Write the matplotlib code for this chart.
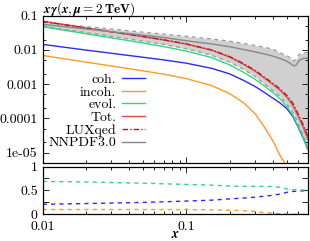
import matplotlib
matplotlib.use("Agg")
import matplotlib.pyplot as plt
import numpy as np

# x grid for the model curves
x_grid = [0.01, 0.02, 0.03, 0.05, 0.07, 0.1, 0.15, 0.2, 0.25, 0.3, 0.35,
          0.4, 0.45, 0.5, 0.55, 0.6, 0.65, 0.7]

coh = [0.0145, 0.0099, 0.0080, 0.0061, 0.0051, 0.0041, 0.0029, 0.0020,
       0.00129, 0.00086, 0.00057, 0.00039, 0.00028, 0.000193, 0.000115,
       5.6e-5, 2.7e-5, 1.25e-5]
incoh = [0.0069, 0.0044, 0.0034, 0.00245, 0.00195, 0.00145, 0.00091,
         0.00053, 0.000285, 0.00014, 5.5e-5, 2.2e-5, 8e-6, 4e-6, 5e-7,
         0.0, 0.0, 0.0]
evol = [0.0476, 0.0297, 0.0226, 0.01595, 0.01245, 0.00925, 0.00599,
        0.00367, 0.002225, 0.0014, 0.000875, 0.000568, 0.000372, 0.000223,
        0.000125, 5.9e-5, 2.8e-5, 1.25e-5]
luxqed = [0.068, 0.0435, 0.0337, 0.0245, 0.0196, 0.0150, 0.0100, 0.0064,
          0.0040, 0.00255, 0.0016, 0.00106, 0.00072, 0.00047, 0.00028,
          0.000135, 6.5e-5, 3e-5]

# NNPDF3.0 central value and uncertainty band
x_nn = [0.01, 0.02, 0.03, 0.05, 0.07, 0.1, 0.15, 0.2, 0.25, 0.3, 0.35, 0.4,
        0.45, 0.5, 0.53, 0.56, 0.58, 0.6, 0.62, 0.65, 0.7]
nn_cen = [0.056, 0.041, 0.034, 0.027, 0.023, 0.0185, 0.0150, 0.0124, 0.0103,
          0.0088, 0.0076, 0.0066, 0.0056, 0.0047, 0.0040, 0.0034, 0.0036,
          0.0045, 0.0052, 0.0056, 0.0058]
nn_up = [0.064, 0.048, 0.041, 0.033, 0.029, 0.025, 0.021, 0.018, 0.0155,
         0.0135, 0.012, 0.0105, 0.0082, 0.0068, 0.0058, 0.0048, 0.0052,
         0.0068, 0.0078, 0.0082, 0.0085]
nn_lo = [0.049, 0.032, 0.025, 0.018, 0.0145, 0.0108, 0.0070, 0.0044, 0.0027,
         0.0017, 0.0010, 0.00065, 0.00043, 0.00026, 0.00019, 0.00013,
         0.0001, 7e-5, 5e-5, 3.2e-5, 1.4e-5]

c_coh = "#2a2aff"
c_inc = "#ff9a2a"
c_evo = "#30d680"
c_tot = "#f04848"
c_lux = "#a82030"
c_nn = "#9a9a9a"

plt.rcParams["font.family"] = "cmr10"
plt.rcParams["mathtext.fontset"] = "cm"
plt.rcParams["axes.unicode_minus"] = False
plt.rcParams["font.size"] = 10

x = np.array(x_grid)
c1, c2, c3 = np.array(coh), np.array(incoh), np.array(evol)
tot = c1 + c2 + c3

fig = plt.figure(figsize=(3.1, 2.41), dpi=100)
ax = fig.add_axes([0.1377, 0.3237, 0.8552, 0.6112])
ax2 = fig.add_axes([0.1377, 0.1108, 0.8552, 0.1982])

ax.fill_between(x_nn, nn_lo, nn_up, color="#d0d0d0", lw=0)
ax.plot(x_nn, nn_up, color=c_nn, lw=0.9, ls=(0, (3, 3)))
ax.plot(x_nn, nn_lo, color=c_nn, lw=0.9, ls=(0, (3, 3)))
ax.plot(x, c1, color=c_coh, lw=1.0, label="coh.")
ax.plot(x, c2, color=c_inc, lw=1.0, label="incoh.")
ax.plot(x, c3, color=c_evo, lw=1.0, label="evol.")
ax.plot(x, tot, color=c_tot, lw=1.0, label="Tot.")
ax.plot(x, luxqed, color=c_lux, lw=1.0, ls=(0, (4, 1.5, 1, 1.5)), label="LUXqed")
ax.plot(x_nn, nn_cen, color="#888888", lw=1.0, label="NNPDF3.0")

ax.set_xscale("log")
ax.set_yscale("log")
ax.set_xlim(0.01, 0.7)
ax.set_ylim(5e-6, 0.1)
ax.set_yticks([0.1, 0.01, 0.001, 0.0001, 1e-05])
ax.set_yticklabels(["0.1", "0.01", "0.001", "0.0001", "1e-05"])
ax.yaxis.set_minor_locator(matplotlib.ticker.LogLocator(subs=(2, 5)))
ax.yaxis.set_minor_formatter(matplotlib.ticker.NullFormatter())
ax.set_xticklabels([], minor=True)
ax.tick_params(labelbottom=False)
fig.text(0.1377, 1 - 13.0 / 241, r"$\boldsymbol{x\gamma(x,\mu=2}\,\mathbf{TeV})$",
         ha="left", va="baseline", fontsize=9.5)

ax.legend(loc="upper right", bbox_to_anchor=(0.385, 0.61), frameon=False,
          markerfirst=False, handlelength=1.65, handletextpad=0.4,
          labelspacing=0.0, borderpad=0, borderaxespad=0)

ax2.plot(x, c1 / tot, color=c_coh, lw=1.0, ls=(0, (3, 3)))
ax2.plot(x, c2 / tot, color=c_inc, lw=1.0, ls=(0, (3, 3)))
ax2.plot(x, c3 / tot, color=c_evo, lw=1.0, ls=(0, (3, 3)))
ax2.set_xscale("log")
ax2.set_xlim(0.01, 0.7)
ax2.set_ylim(0, 1)
ax2.set_yticks([0, 0.25, 0.5, 0.75, 1])
ax2.set_yticklabels(["0", "", "0.5", "", "1"])
ax2.set_xticks([0.01, 0.1])
ax2.set_xticklabels(["0.01", "0.1"])
ax2.xaxis.set_minor_formatter(matplotlib.ticker.NullFormatter())
ax2.set_xlabel(r"$\boldsymbol{x}$", labelpad=-3)

for a in (ax, ax2):
    a.tick_params(which="both", direction="in", top=True, right=True)
    a.tick_params(which="major", length=4, width=0.6)
    a.tick_params(which="minor", length=2, width=0.6)
    for s in a.spines.values():
        s.set_linewidth(0.9)
ax2.tick_params(axis="x", which="major", pad=5)

fig.savefig("out.png", dpi=100)
